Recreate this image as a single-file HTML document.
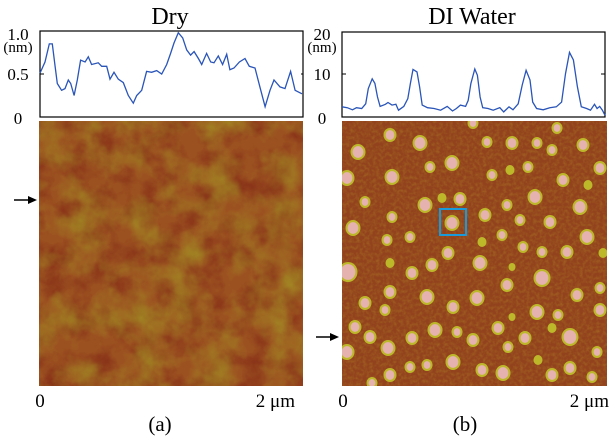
<!DOCTYPE html>
<html><head><meta charset="utf-8"><style>
body{margin:0;background:#fff;}
svg{display:block;font-family:"Liberation Serif",serif;}
filter{color-interpolation-filters:sRGB;}
</style></head><body>
<svg width="612" height="440" viewBox="0 0 612 440">
<defs>
<filter id="noiseA" x="0" y="0" width="100%" height="100%" color-interpolation-filters="sRGB">
<feTurbulence type="fractalNoise" baseFrequency="0.03" numOctaves="4" seed="3"/>
<feColorMatrix values="0 0 0 0 0.64  0 0 0 0 0.56  0 0 0 0 0.14  1.6 0 0 0 -0.6"/>
</filter>
<filter id="noiseA2" x="0" y="0" width="100%" height="100%" color-interpolation-filters="sRGB">
<feTurbulence type="fractalNoise" baseFrequency="0.045" numOctaves="4" seed="11"/>
<feColorMatrix values="0 0 0 0 0.5  0 0 0 0 0.14  0 0 0 0 0.08  1.5 0 0 0 -0.55"/>
</filter>
<filter id="noiseB" x="0" y="0" width="100%" height="100%" color-interpolation-filters="sRGB">
<feTurbulence type="fractalNoise" baseFrequency="0.3" numOctaves="2" seed="5"/>
<feColorMatrix values="0 0 0 0 0.66  0 0 0 0 0.44  0 0 0 0 0.14  1.2 0 0 0 -0.45"/>
</filter>
<clipPath id="clipB"><rect x="342" y="121" width="265" height="265"/></clipPath>
</defs>

<text x="170" y="24" font-size="24" text-anchor="middle">Dry</text>
<text x="472" y="24" font-size="24" text-anchor="middle">DI Water</text>

<g id="profA">
<rect x="40" y="31" width="263" height="86" fill="#fff" stroke="#000" stroke-width="1.2"/>
<text x="18" y="40" font-size="17" text-anchor="middle">1.0</text>
<text x="18" y="52" font-size="15" text-anchor="middle">(nm)</text>
<text x="18" y="80" font-size="17" text-anchor="middle">0.5</text>
<text x="18" y="124" font-size="17" text-anchor="middle">0</text>
<line x1="40" y1="74" x2="44" y2="74" stroke="#000"/>
</g>

<g id="profB">
<rect x="342" y="32" width="263" height="85" fill="#fff" stroke="#000" stroke-width="1.2"/>
<text x="322" y="40" font-size="17" text-anchor="middle">20</text>
<text x="322" y="52" font-size="15" text-anchor="middle">(nm)</text>
<text x="322" y="80" font-size="17" text-anchor="middle">10</text>
<text x="322" y="124" font-size="17" text-anchor="middle">0</text>
<line x1="342" y1="74" x2="346" y2="74" stroke="#000"/>
<line x1="301" y1="74" x2="303" y2="74" stroke="#000"/>
<line x1="601" y1="74" x2="605" y2="74" stroke="#000"/>
</g>

<g>
<rect x="39" y="121" width="264" height="265" fill="#9c5220"/>
<rect x="39" y="121" width="264" height="265" filter="url(#noiseA2)"/>
<rect x="39" y="121" width="264" height="265" filter="url(#noiseA)"/>
</g>

<g clip-path="url(#clipB)">
<rect x="342" y="121" width="265" height="265" fill="#92421c"/>
<rect x="342" y="121" width="265" height="265" filter="url(#noiseB)"/>
<g id="particles"></g>
</g>
<rect x="440" y="209" width="26" height="26" fill="none" stroke="#1a9ad8" stroke-width="2"/>

<g>
<line x1="14" y1="200" x2="30" y2="200" stroke="#000" stroke-width="1.5"/>
<polygon points="37,200 28,196 28,204" fill="#000"/>
</g>
<g>
<line x1="316" y1="337" x2="332" y2="337" stroke="#000" stroke-width="1.5"/>
<polygon points="339,337 330,333 330,341" fill="#000"/>
</g>

<text x="40" y="407" font-size="19" text-anchor="middle">0</text>
<text x="295" y="407" font-size="19" text-anchor="end">2 μm</text>
<text x="160" y="431" font-size="21" text-anchor="middle">(a)</text>
<text x="343" y="407" font-size="19" text-anchor="middle">0</text>
<text x="609" y="407" font-size="19" text-anchor="end">2 μm</text>
<text x="465" y="431" font-size="21" text-anchor="middle">(b)</text>
</svg>
<script>
const dryPos=[0,.038,.071,.094,.115,.132,.165,.191,.216,.234,.26,.285,.31,.344,.369,.394,.445,.471,.509,.534,.565,.598,.636,.674,.712,.738,.776,.814,.852,.891,.929,.967,.997,1.023,1.056,1.089,1.12,1.15,1.176,1.209,1.234,1.272,1.303,1.328,1.361,1.394,1.425,1.45,1.481,1.522,1.565,1.598,1.641,1.679,1.718,1.756,1.786,1.832,1.87,1.913,1.947,2.0];
const dryHeight=[.51,.64,.85,.85,.59,.39,.31,.33,.43,.39,.25,.43,.66,.64,.70,.61,.63,.59,.59,.44,.52,.44,.40,.25,.16,.25,.31,.53,.52,.54,.50,.61,.74,.86,.98,.92,.78,.72,.76,.68,.61,.74,.64,.63,.71,.61,.73,.55,.57,.64,.68,.59,.57,.35,.12,.31,.43,.35,.33,.53,.31,.27];
const waterPos=[0,.04,.08,.11,.15,.18,.20,.23,.25,.27,.29,.33,.35,.38,.41,.43,.47,.50,.52,.54,.57,.59,.61,.65,.70,.75,.80,.84,.87,.90,.94,.96,.98,1.01,1.03,1.05,1.07,1.11,1.15,1.20,1.23,1.27,1.30,1.34,1.37,1.40,1.43,1.45,1.48,1.53,1.58,1.63,1.67,1.70,1.73,1.76,1.79,1.82,1.86,1.89,1.92,1.94,1.96,1.98,2.0];
const waterHeight=[2.4,2.2,1.7,2.2,2,3.1,6.7,9,7.9,4.7,2.5,3,3.4,2.8,3,1.6,2.5,4.3,7.9,11.2,10.6,7.1,2.8,2.2,2,1.6,2.5,1.4,2,2.8,2.5,3.9,7.9,11.3,9.8,4.7,2.2,2,1.6,2.2,1.2,2.4,1.7,3.1,7.5,11,8.7,3.5,2,1.7,2.2,2.4,3.5,10.2,15.2,13.4,7.1,2.4,2,1.6,3,2,2.5,1.6,0.4];
const dryTicks=[0,0.5,1.0];
const waterTicks=[0,10,20];
const particleX=[390,358,420,487,512,537,557,583,552,452,430,347,392,492,510,528,563,600,588,365,425,442,460,507,535,580,392,485,520,550,353,452,410,387,482,502,523,542,567,587,603,448,390,432,480,512,412,348,542,507,390,427,477,600,577,365,385,453,537,558,600,512,355,435,457,498,370,412,473,525,570,552,388,347,508,597,453,410,427,538,570,482,503,552,592,390,372,473];
const particleY=[135,152,143,142,143,143,128,145,150,163,167,178,177,175,170,167,180,168,185,202,205,198,199,205,197,207,217,215,220,222,228,223,237,240,242,235,247,252,252,237,253,253,263,265,263,267,273,272,278,285,292,297,298,288,295,303,310,307,312,315,310,317,327,330,332,328,337,338,340,338,337,328,348,352,347,352,362,367,365,360,368,370,373,375,377,375,383,123];
const particleR=[6,7,7,5,6,5,5,6,5,7,5,7,7,5,4,5,6,6,4,5,7,4,6,5,7,7,5,6,5,6,7,7,5,5,4,5,5,5,6,7,4,6,4,6,7,3,6,9,8,6,6,7,7,5,6,6,5,6,7,5,6,3,6,7,5,6,6,6,6,6,8,4,7,7,5,5,7,5,5,4,6,6,7,6,5,6,5,5];
const NS='http://www.w3.org/2000/svg';
function line(pos,h,x0,w,y0,hh,max,name){
  const sx=v=>x0+v/2*w, sy=v=>y0+hh-v/max*hh;
  const p=document.createElementNS(NS,'polyline');
  p.setAttribute('points',pos.map((v,i)=>sx(v).toFixed(1)+','+sy(h[i]).toFixed(1)).join(' '));
  p.setAttribute('fill','none');p.setAttribute('stroke','#2a55b8');p.setAttribute('stroke-width','1.3');
  
  
  return p;
}
document.getElementById('profA').appendChild(line(dryPos,dryHeight,40,262,31,86,1.0,'dry-profile-line'));
document.getElementById('profB').appendChild(line(waterPos,waterHeight,342,263,32,85,20,'water-profile-line'));
const pg=document.getElementById('particles');
particleX.forEach((x,i)=>{
  const r=particleR[i];
  const c=document.createElementNS(NS,'ellipse');
  c.setAttribute('cx',x);c.setAttribute('cy',particleY[i]);c.setAttribute('rx',r+0.5);c.setAttribute('ry',r+1);
  c.setAttribute('fill','#bdb82a');
  
  
  pg.appendChild(c);
  if(r>=5){
    const k=document.createElementNS(NS,'ellipse');
    k.setAttribute('cx',x);k.setAttribute('cy',particleY[i]);k.setAttribute('rx',r-1.6);k.setAttribute('ry',r-1.1);
    k.setAttribute('fill','#e6b2b0');
    
    
    pg.appendChild(k);
  }
});
</script>
</body></html>
